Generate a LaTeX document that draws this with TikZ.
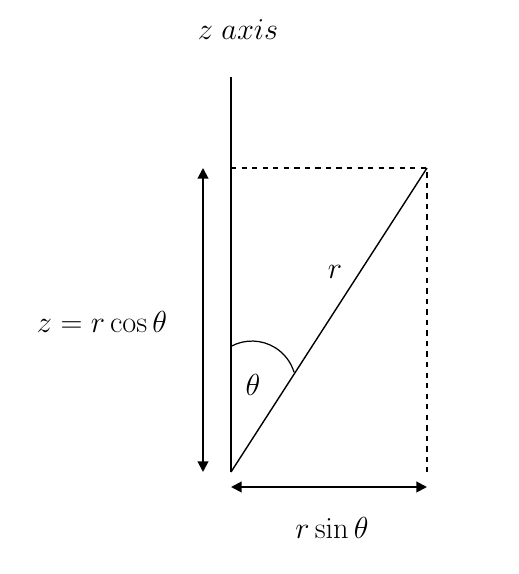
\documentclass[tikz,border=0pt]{standalone}
\usetikzlibrary{arrows.meta}
\begin{document}
\begin{tikzpicture}[x=0.02cm, y=0.02cm,
    lbl/.style={font=\fontsize{18.5}{22}\selectfont, inner sep=1pt},
    dimarrow/.style={line width=1.1pt, {Triangle[length=6pt,width=6pt]}-{Triangle[length=6pt,width=6pt]}}]
    \useasboundingbox (0,0) rectangle (518,574);

    % Key points
    \coordinate (origin) at (231,102);
    \coordinate (axistop) at (231,497);
    \coordinate (point) at (427,406);
    \coordinate (topleft) at (231,406);
    \coordinate (bottomright) at (427,102);

    % z axis and dashed projections
    \draw[line width=1.1pt] (origin) -- (axistop);
    \draw[line width=0.9pt, dashed] (topleft) -- (point) -- (bottomright);

    % Radius vector
    \draw[line width=0.8pt] (origin) -- (point);

    % Angle arc
    \draw[line width=0.7pt] (231.3,227.8) arc (118:17:44);

    % Dimension arrows
    \coordinate (zlow) at (203,102);
    \coordinate (zhigh) at (203,406);
    \draw[dimarrow] (zlow) -- (zhigh);
    \coordinate (xleft) at (231,87);
    \coordinate (xright) at (427,87);
    \draw[dimarrow] (xleft) -- (xright);

    % Labels
    \node[lbl] (axislabel) at (238,544) {$z\;axis$};
    \node[lbl] (rlabel) at (335,302) {$r$};
    \node[lbl] (thetalabel) at (253,189) {$\theta$};
    \node[lbl] (zlabel) at (102,252) {$z = r\cos\theta$};
    \node[lbl] (xlabel) at (332,46) {$r\sin\theta$};
\end{tikzpicture}
\end{document}
